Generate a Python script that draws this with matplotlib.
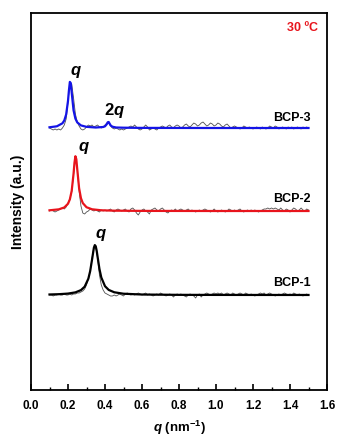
import numpy as np
import matplotlib
matplotlib.use("Agg")
import matplotlib.pyplot as plt
from matplotlib.ticker import MultipleLocator

plt.rcParams['font.family'] = ['Liberation Sans', 'DejaVu Sans']
plt.rcParams['mathtext.fontset'] = 'custom'
plt.rcParams['mathtext.it'] = 'Liberation Sans:italic:bold'
plt.rcParams['mathtext.bf'] = 'Liberation Sans:bold'
plt.rcParams['mathtext.rm'] = 'Liberation Sans:bold'

# ---------------- data ----------------
series_names = ["BCP-1", "BCP-2", "BCP-3"]
offsets = [95, 179, 262]

q_raw = np.round(np.arange(0.10, 1.505, 0.01), 2)

raw_bcp3 = [0, -1, -2, -1, -2, -1, -2, 0, 3, 9,
            26, 45, 44, 30, 14, 6, 2, -1, -2, -1,
            1, 3, 2, 3, 1, 2, 3, 1, 0, 1,
            3, 5, 5, 2, 0, -1, 0, -1, -2, -1,
            -2, -1, 0, 1, 2, 1, 3, 1, -1, -2,
            -1, 1, 3, 1, -2, -1, 0, -1, -2, 0,
            1, 2, 1, 0, 2, 3, 1, 0, 2, 3,
            2, 0, 1, 3, 4, 2, 1, 3, 5, 4,
            2, 3, 5, 6, 4, 2, 3, 5, 4, 2,
            3, 5, 4, 2, 1, 3, 4, 2, 0, 1,
            2, 1, 0, -1, 0, 2, 1, 0, 1, 0,
            -1, 0, 1, 0, -1, 1, 0, -1, 0, 2,
            1, 0, 2, 1, -1, 0, 1, 0, -1, 1,
            0, 1, -1, 0, 1, 0, -1, 1, 0, 1,
            0]

raw_bcp2 = [0, 1, 0, -1, 0, 1, 2, 3, 2, 4,
            8, 12, 19, 36, 53, 42, 20, 5, -2, -3,
            -1, 0, 2, 1, 0, 1, 0, -1, 1, 0,
            1, 0, 1, 2, 0, -1, 1, 2, 1, 0,
            1, 2, 0, -1, 2, 3, 1, -2, -4, -1,
            1, 2, 0, -1, -3, 1, 2, 3, 1, 0,
            2, 3, 1, -1, -2, 0, 1, 0, 2, 0,
            1, 2, 1, 0, 1, 2, 0, 1, 0, -1,
            0, 1, 0, 1, 2, 1, 0, -1, 0, 2,
            0, -1, 0, 1, 0, -1, 0, 2, 1, 0,
            1, 0, 1, 2, 0, -1, 0, 1, 0, 1,
            0, 1, 0, -1, 0, 1, 2, 2, 3, 2,
            3, 2, 3, 2, 1, 3, 1, 0, 2, 1,
            -1, 1, 3, 2, 0, 1, 3, 1, 0, 2,
            1]

raw_bcp1 = [0, 0, -1, 0, 0, 1, 0, 0, 1, 0,
            0, 1, 0, 1, 1, 2, 2, 3, 4, 6,
            10, 16, 24, 37, 48, 48, 37, 20, 10, 5,
            2, 1, 0, -1, -1, 0, -1, 0, 1, 0,
            -1, 1, 2, 1, 0, 1, 0, 1, 2, 1,
            0, 1, 2, 0, 1, 0, -1, 0, 1, 0,
            2, 1, 0, -1, 0, 1, 0, -2, 0, 1,
            0, 1, 0, -1, -2, 0, 1, 0, -1, -3,
            0, 1, -2, 0, 1, 2, 1, 0, 1, 2,
            1, 2, 1, 2, 0, 1, 2, 1, 0, 2,
            1, 0, 1, 2, 1, 0, 2, 1, 0, 1,
            0, -1, 0, 1, 2, 1, 2, 0, 1, 2,
            1, 0, -1, 0, 1, 0, 1, 2, 1, 0,
            1, 0, 2, 1, 0, 1, 0, -1, 0, 1,
            0]

q_fit3 = [0.10, 0.14, 0.17, 0.18, 0.19, 0.20, 0.205, 0.21, 0.215, 0.22, 0.23, 0.24,
          0.25, 0.27, 0.30, 0.35, 0.39, 0.40, 0.41, 0.415, 0.42, 0.43, 0.44, 0.46,
          0.50, 0.60, 0.80, 1.00, 1.20, 1.50]
fit_bcp3 = [0.72, 1.71, 4.7, 7.56, 13.5, 27.1, 37.6, 46.1, 44.9, 35.4, 17.7, 9.4,
            5.6, 2.58, 1.16, 0.48, 1.0, 1.7, 3.9, 5.8, 6.0, 2.7, 1.3, 0.5,
            0.3, 0.1, 0.05, 0.0, 0.0, 0.0]

q_fit2 = [0.10, 0.15, 0.18, 0.20, 0.21, 0.22, 0.23, 0.235, 0.24, 0.245, 0.25, 0.26,
          0.27, 0.28, 0.30, 0.33, 0.38, 0.45, 0.60, 0.80, 1.00, 1.20, 1.50]
fit_bcp2 = [0.70, 1.65, 3.55, 7.27, 11.6, 20.2, 37.3, 48.2, 54.8, 51.8, 41.8, 22.8,
            12.8, 7.9, 3.77, 1.72, 0.71, 0.32, 0.1, 0.05, 0.0, 0.0, 0.0]

q_fit1 = [0.10, 0.15, 0.20, 0.24, 0.27, 0.29, 0.31, 0.32, 0.33, 0.34, 0.345, 0.35,
          0.355, 0.36, 0.37, 0.38, 0.40, 0.42, 0.45, 0.50, 0.60, 0.80, 1.00, 1.20, 1.50]
fit_bcp1 = [0.51, 0.80, 1.42, 2.63, 4.88, 8.3, 16.3, 24.0, 35.5, 47.3, 49.9, 48.7,
            44.3, 38.1, 26.0, 17.5, 8.8, 5.1, 2.73, 1.28, 0.48, 0.15, 0.08, 0.05, 0.03]

fit_colors = ["#000000", "#e8141c", "#1414e6"]
x_ticks = [0.0, 0.2, 0.4, 0.6, 0.8, 1.0, 1.2, 1.4, 1.6]
x_tick_labels = ["0.0", "0.2", "0.4", "0.6", "0.8", "1.0", "1.2", "1.4", "1.6"]

# ---------------- plot ----------------
fig = plt.figure(figsize=(3.37, 4.38), dpi=100)
ax = fig.add_axes([31/337, 48/438, 296/337, 377/438])

raws = [raw_bcp1, raw_bcp2, raw_bcp3]
fits = [(q_fit1, fit_bcp1), (q_fit2, fit_bcp2), (q_fit3, fit_bcp3)]
for i in range(3):
    off = offsets[i]
    ax.plot(q_raw, np.array(raws[i]) + off, color="#505050", lw=0.6, zorder=2)
    qf, yf = fits[i]
    ax.plot(qf, np.array(yf) + off, color=fit_colors[i], lw=1.6, zorder=3)

# annotations
ax.text(0.243, 318, r"$\mathit{q}$", fontsize=12, ha="center", va="center")
ax.text(0.454, 280, r"$\mathbf{2}\mathit{q}$", fontsize=12, ha="center", va="center")
ax.text(0.285, 242, r"$\mathit{q}$", fontsize=12, ha="center", va="center")
ax.text(0.378, 155, r"$\mathit{q}$", fontsize=12, ha="center", va="center")
for name, yl in zip(series_names, [107, 191, 272]):
    ax.text(1.41, yl, name, fontsize=9, fontweight="bold", ha="center", va="center")
ax.text(1.465, 362, "30 ºC", fontsize=9, fontweight="bold", color="#e8141c",
        ha="center", va="center")

ax.set_xlim(0, 1.6)
ax.set_ylim(0, 377)
ax.set_xticks(x_ticks)
ax.set_xticklabels(x_tick_labels, fontsize=8.5, fontweight="bold")
ax.xaxis.set_minor_locator(MultipleLocator(0.1))
ax.tick_params(axis="x", which="major", direction="in", length=4, width=1.2, pad=7)
ax.tick_params(axis="x", which="minor", direction="in", length=2.5, width=1.0)
ax.set_yticks([])
for s in ax.spines.values():
    s.set_linewidth(1.3)

ax.set_xlabel(r"$\mathit{q}$ (nm$^{\mathbf{-1}}$)", fontsize=9.5, fontweight="bold", labelpad=5)
ax.set_ylabel("Intensity (a.u.)", fontsize=10, fontweight="bold", labelpad=4)

fig.savefig("out.png", dpi=100)
